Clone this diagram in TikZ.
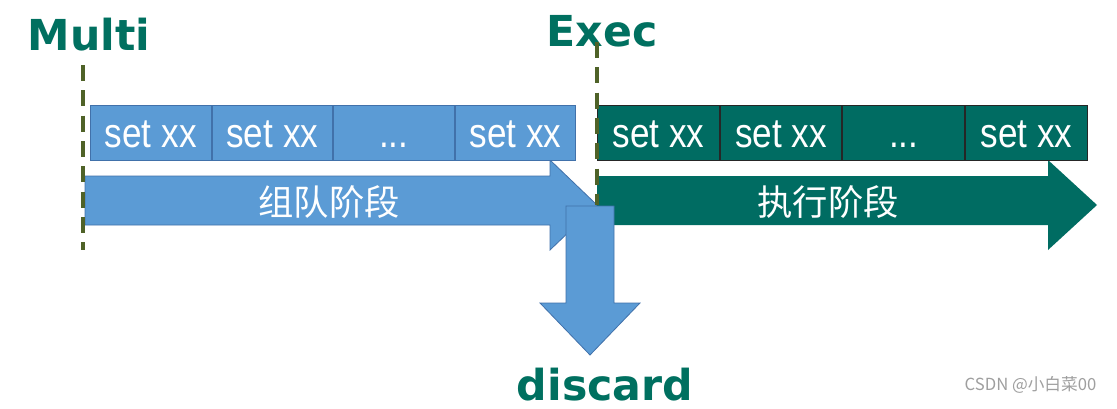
\documentclass[tikz,border=0pt]{standalone}
\usepackage{fontspec}
\setmainfont{Liberation Sans}
\newfontfamily\boldhead{DejaVu Sans}
\newfontfamily\cjk{Noto Sans CJK SC}
\newfontfamily\cmdfont{Liberation Sans}[FakeStretch=0.85]
\usetikzlibrary{positioning}
\definecolor{queueblue}{RGB}{91,155,213}
\definecolor{queueline}{RGB}{65,113,170}
\definecolor{execgreen}{RGB}{0,108,98}
\definecolor{headgreen}{RGB}{0,112,96}
\definecolor{markolive}{RGB}{79,98,40}

\begin{document}
\begin{tikzpicture}[
    x=0.75pt, y=-0.75pt,
    cmd/.style={rectangle, draw, line width=0.75pt, minimum height=41.25pt, inner sep=0pt, text height=21.8pt, text depth=0pt, text=white, font=\cmdfont\fontsize{31}{31}\selectfont},
    queuecmd/.style={cmd, fill=queueblue, draw=queueline, minimum width=90.4pt},
    execcmd/.style={cmd, fill=execgreen, draw=black!85, minimum width=91.3pt},
    phase/.style={text=white, font=\cjk\fontsize{26.5}{26.5}\selectfont},
    stagelabel/.style={text=headgreen, inner sep=0pt, font=\boldhead\bfseries\fontsize{32}{32}\selectfont},
    phaseline/.style={draw=markolive, line width=3pt, dash pattern=on 12pt off 7pt}
]
\fill[white] (0,0) rectangle (1117,408);
\useasboundingbox (0,0) rectangle (1117,408);

% phase arrows
\filldraw[fill=queueblue, draw=queueline, line width=0.6pt]
    (85,176) -- (550,176) -- (550,160) -- (597,205) -- (550,250) -- (550,225) -- (85,225) -- cycle;
\fill[execgreen]
    (597,176) -- (1048,176) -- (1048,160) -- (1097,205) -- (1048,250) -- (1048,225) -- (597,225) -- cycle;
\node[phase] (queuing) at (329,202) {组队阶段};
\node[phase] (running) at (828,202) {执行阶段};

% queued commands
\node[queuecmd, anchor=north west] (q1) at (90,105) {set xx};
\node[queuecmd, right=0pt of q1] (q2) {set xx};
\node[queuecmd, right=0pt of q2] (q3) {...};
\node[queuecmd, right=0pt of q3] (q4) {set xx};

% executed commands
\node[execcmd, anchor=north west] (e1) at (597,105) {set xx};
\node[execcmd, right=0pt of e1] (e2) {set xx};
\node[execcmd, right=0pt of e2] (e3) {...};
\node[execcmd, right=0pt of e3] (e4) {set xx};

% stage labels
\node[stagelabel, anchor=base] (multi) at (89,50) {Multi};
\node[stagelabel, anchor=base] (exec) at (602,46) {Exec};
\node[stagelabel, anchor=base] (discard) at (605,400) {discard};

\draw[phaseline] (83,65) -- (83,250);
\draw[phaseline] (597,42) -- (597,205);

% discard arrow
\filldraw[fill=queueblue, draw=queueline, line width=0.6pt]
    (566,206) -- (614,206) -- (614,303) -- (640,303) -- (590,355) -- (540,303) -- (566,303) -- cycle;

\node[text=gray!75, font=\cjk\fontsize{12.5}{12.5}\selectfont, anchor=east] (mark) at (1101,385) {CSDN @小白菜00};

\end{tikzpicture}
\end{document}
